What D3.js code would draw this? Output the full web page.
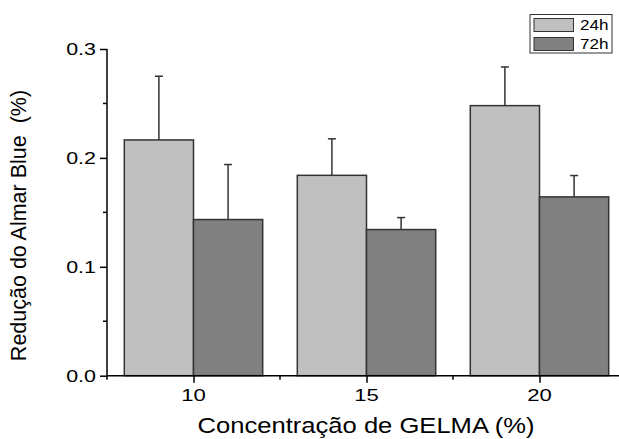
<!DOCTYPE html>
<html><head><meta charset="utf-8">
<script src="https://cdn.jsdelivr.net/npm/d3@7"></script>
<style>body{margin:0;background:#fff}text{font-family:"Liberation Sans",Arial,sans-serif;fill:#000}</style>
</head><body><svg id="c" width="619" height="439"></svg>
<script>
const categories = [10, 15, 20];
const series = ["24h", "72h"];
const values24 = [0.2165, 0.184, 0.248];
const errors24 = [0.0585, 0.0335, 0.0355];
const values72 = [0.1434, 0.1342, 0.1642];
const errors72 = [0.0505, 0.011, 0.0196];
const yTicks = [0.0, 0.1, 0.2, 0.3];
const yMinor = [0.05, 0.15, 0.25];
const xTicks = [10, 15, 20];
const xMinor = [7.5, 12.5, 17.5];
const colors = ["#c0c0c0", "#808080"];

const svg = d3.select("#c");
const x = d3.scaleLinear().domain([7.5, 22.5]).range([107, 626]);
const y = d3.scaleLinear().domain([0, 0.3]).range([375.7, 49]);
const barW = 2;

const data = [];
categories.forEach((c, i) => {
  data.push({c, s: 0, v: values24[i], e: errors24[i]});
  data.push({c, s: 1, v: values72[i], e: errors72[i]});
});

// error bars (behind bars)
const eb = svg.append("g").attr("stroke", "#333").attr("stroke-width", 1.5);
data.forEach(d => {
  const cx = d.s === 0 ? x(d.c - barW / 2) : x(d.c + barW / 2);
  eb.append("line").attr("x1", cx).attr("x2", cx).attr("y1", y(d.v)).attr("y2", y(d.v + d.e));
  eb.append("line").attr("x1", cx - 4).attr("x2", cx + 4).attr("y1", y(d.v + d.e)).attr("y2", y(d.v + d.e));
});

svg.append("g").selectAll("rect").data(data).join("rect")
  .attr("x", d => d.s === 0 ? x(d.c - barW) : x(d.c))
  .attr("width", d => x(d.c + barW) - x(d.c))
  .attr("y", d => y(d.v))
  .attr("height", d => y(0) - y(d.v))
  .attr("fill", d => colors[d.s])
  .attr("stroke", "#333").attr("stroke-width", 1.5);

// axes
const yAxis = svg.append("g").attr("transform", `translate(${x(7.5)},0)`)
  .call(d3.axisLeft(y).tickValues(yTicks).tickSize(7).tickFormat(d3.format(".1f")));
yAxis.select(".domain").attr("d", `M0,${y(0)}V${y(0.3)}`).attr("stroke-width", 1.5);
yAxis.selectAll(".tick line").attr("stroke-width", 1.5);
yAxis.selectAll(".tick text").remove();
yTicks.forEach(t => {
  svg.append("text").attr("transform", `translate(96,${y(t) + 6}) scale(1.3,1)`)
    .attr("text-anchor", "end").attr("font-size", 16.5).text(d3.format(".1f")(t));
});
svg.append("g").selectAll("line").data(yMinor).join("line")
  .attr("x1", x(7.5) - 4).attr("x2", x(7.5)).attr("y1", d => y(d)).attr("y2", d => y(d))
  .attr("stroke", "#000").attr("stroke-width", 1.5);

const xAxis = svg.append("g").attr("transform", `translate(0,${y(0)})`)
  .call(d3.axisBottom(x).tickValues(xTicks).tickSize(7).tickFormat(""));
xAxis.select(".domain").attr("d", `M${x(7.5)},0H619`).attr("stroke-width", 1.5);
xAxis.selectAll(".tick line").attr("stroke-width", 1.5);
xTicks.forEach(t => {
  svg.append("text").attr("transform", `translate(${x(t)},400.7) scale(1.3,1)`)
    .attr("text-anchor", "middle").attr("font-size", 17).text(t);
});
svg.append("g").selectAll("line").data(xMinor).join("line")
  .attr("x1", d => x(d)).attr("x2", d => x(d)).attr("y1", y(0)).attr("y2", y(0) + 4)
  .attr("stroke", "#000").attr("stroke-width", 1.5);

// titles
svg.append("text").attr("transform", "translate(366,433) scale(1.19,1)")
  .attr("text-anchor", "middle").attr("font-size", 21.5).text("Concentração de GELMA (%)");
svg.append("text").attr("transform", "translate(26,225.5) rotate(-90)")
  .attr("text-anchor", "middle").attr("font-size", 21.5).attr("xml:space", "preserve")
  .style("white-space", "pre").text("Redução do Almar Blue  (%)");

// legend
const lg = svg.append("g");
lg.append("rect").attr("x", 530).attr("y", 14.5).attr("width", 82).attr("height", 38.5)
  .attr("fill", "#fff").attr("stroke", "#333").attr("stroke-width", 1);
series.forEach((s, i) => {
  lg.append("rect").attr("x", 534).attr("y", 18.5 + i * 19).attr("width", 39.5).attr("height", 13)
    .attr("fill", colors[i]).attr("stroke", "#333").attr("stroke-width", 1);
  lg.append("text").attr("transform", `translate(580,${30 + i * 19}) scale(1.22,1)`)
    .attr("font-size", 14).text(s);
});
</script></body></html>
